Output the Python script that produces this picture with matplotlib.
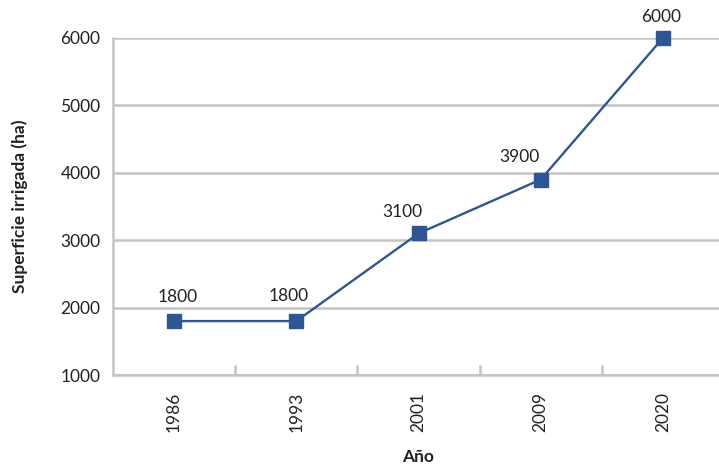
import matplotlib
matplotlib.use('Agg')
import matplotlib.pyplot as plt

years = ['1986', '1993', '2001', '2009', '2020']
area = [1800, 1800, 3100, 3900, 6000]
yticks = [1000, 2000, 3000, 4000, 5000, 6000]

# label nudges in pixels (dx, dy) relative to the marker
label_offsets = [(4, 24), (-8, 25), (-16, 21), (-21, 23), (-2, 21)]

plt.rcParams['font.family'] = ['Lato', 'DejaVu Sans']

fig = plt.figure(figsize=(7.19, 4.68), dpi=100)
ax = fig.add_axes([113/719, 1 - 375/468, 611/719, (375 - 38)/468])

grey = '#c4c4c4'
blue = '#2e5594'
txt = '#222222'
x = list(range(len(years)))

ax.plot(x, area, color=blue, lw=1.7, marker='s', ms=9.5, zorder=3, clip_on=False)
for xi, v, (dx, dy) in zip(x, area, label_offsets):
    ax.annotate(str(v), (xi, v), xytext=(dx * 0.72, dy * 0.72), textcoords='offset points',
                ha='center', va='center', fontsize=12.5, color=txt)

ax.set_xlim(-0.5, len(years) - 0.5)
ax.set_ylim(1000, 6000)
ax.set_yticks(yticks)
ax.set_yticklabels([str(t) for t in yticks], fontsize=12.5, color=txt)
ax.yaxis.grid(True, color=grey, lw=1.8)
ax.set_axisbelow(True)
ax.tick_params(axis='y', length=0, pad=9)

ax.set_xticks(x)
ax.set_xticklabels(years, rotation=90, fontsize=12.5, color=txt)
ax.tick_params(axis='x', length=0, pad=12)
ax.set_xticks([i + 0.5 for i in x[:-1]], minor=True)
ax.tick_params(axis='x', which='minor', direction='in', length=7, width=1.8, color=grey)

for s in ['top', 'right']:
    ax.spines[s].set_visible(False)
for s in ['left', 'bottom']:
    ax.spines[s].set_color(grey)
    ax.spines[s].set_linewidth(1.8)

ax.set_xlabel('Año', fontsize=12.5, fontweight='bold', labelpad=12, color=txt)
ax.set_ylabel('Superficie irrigada (ha)', fontsize=12.5, fontweight='bold', labelpad=23, color=txt)

fig.savefig('out.png', dpi=100)
